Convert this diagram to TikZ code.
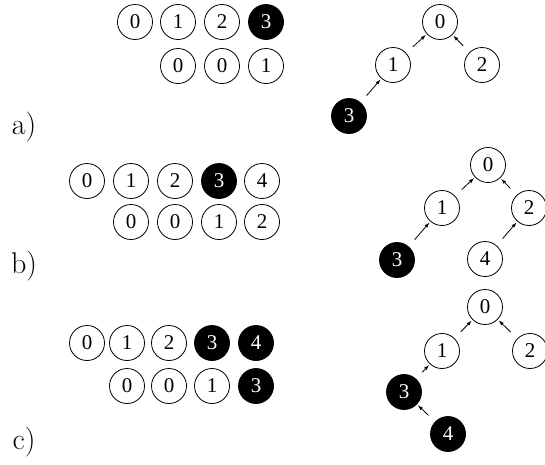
\documentclass[tikz,border=0pt]{standalone}
\usepackage{fontspec}
\newfontfamily\digitfont{Liberation Serif}
\usetikzlibrary{arrows.meta}
\tikzset{
  cell/.style={circle,draw,line width=0.8pt,minimum size=35pt,inner sep=0pt,font=\digitfont\fontsize{21}{21}\selectfont},
  full/.style={cell,fill=black,text=white},
  lab/.style={font=\fontsize{30}{30}\selectfont,anchor=center},
  link/.style={line width=0.8pt,-{Latex[length=5.5pt,width=3.5pt]},shorten <=9pt,shorten >=1pt}
}
\begin{document}
\begin{tikzpicture}[x=1pt,y=-1pt]
\useasboundingbox (0,0) rectangle (545,464);
% ---- a) ----
\node[cell] (a0) at (135,22) {0};
\node[cell] (a1) at (178,22) {1};
\node[cell] (a2) at (222,22) {2};
\node[full] (a3) at (266,22) {3};
\node[cell] (ap0) at (178,66) {0};
\node[cell] (ap1) at (222,66) {0};
\node[cell] (ap2) at (266,66) {1};
\node[lab] (la) at (24,127) {a)};
\node[cell] (ta0) at (440,22) {0};
\node[cell] (ta1) at (393,65) {1};
\node[cell] (ta2) at (482,65) {2};
\node[full] (ta3) at (349,116) {3};
\draw[link] (ta1) -- (ta0);
\draw[link] (ta2) -- (ta0);
\draw[link] (ta3) -- (ta1);
% ---- b) ----
\node[cell] (b0) at (87,181) {0};
\node[cell] (b1) at (131,181) {1};
\node[cell] (b2) at (175,181) {2};
\node[full] (b3) at (219,181) {3};
\node[cell] (b4) at (262,181) {4};
\node[cell] (bp0) at (131,222) {0};
\node[cell] (bp1) at (175,222) {0};
\node[cell] (bp2) at (219,222) {1};
\node[cell] (bp3) at (262,222) {2};
\node[lab] (lb) at (24,266) {b)};
\node[cell] (tb0) at (488,165) {0};
\node[cell] (tb1) at (442,208) {1};
\node[cell] (tb2) at (529,208) {2};
\node[full] (tb3) at (397,260) {3};
\node[cell] (tb4) at (485,259) {4};
\draw[link] (tb1) -- (tb0);
\draw[link] (tb2) -- (tb0);
\draw[link] (tb3) -- (tb1);
\draw[link] (tb4) -- (tb2);
% ---- c) ----
\node[cell] (c0) at (87,343) {0};
\node[cell] (c1) at (127,343) {1};
\node[cell] (c2) at (169,343) {2};
\node[full] (c3) at (212,343) {3};
\node[full] (c4) at (256,343) {4};
\node[cell] (cp0) at (127,386) {0};
\node[cell] (cp1) at (169,386) {0};
\node[cell] (cp2) at (212,386) {1};
\node[full] (cp3) at (256,386) {3};
\node[lab] (lc) at (24,442) {c)};
\node[cell] (tc0) at (485,307) {0};
\node[cell] (tc1) at (442,351) {1};
\node[cell] (tc2) at (530,351) {2};
\node[full] (tc3) at (404,392) {3};
\node[full] (tc4) at (448,434) {4};
\draw[link] (tc1) -- (tc0);
\draw[link] (tc2) -- (tc0);
\draw[link] (tc3) -- (tc1);
\draw[link] (tc4) -- (tc3);
\end{tikzpicture}
\end{document}
